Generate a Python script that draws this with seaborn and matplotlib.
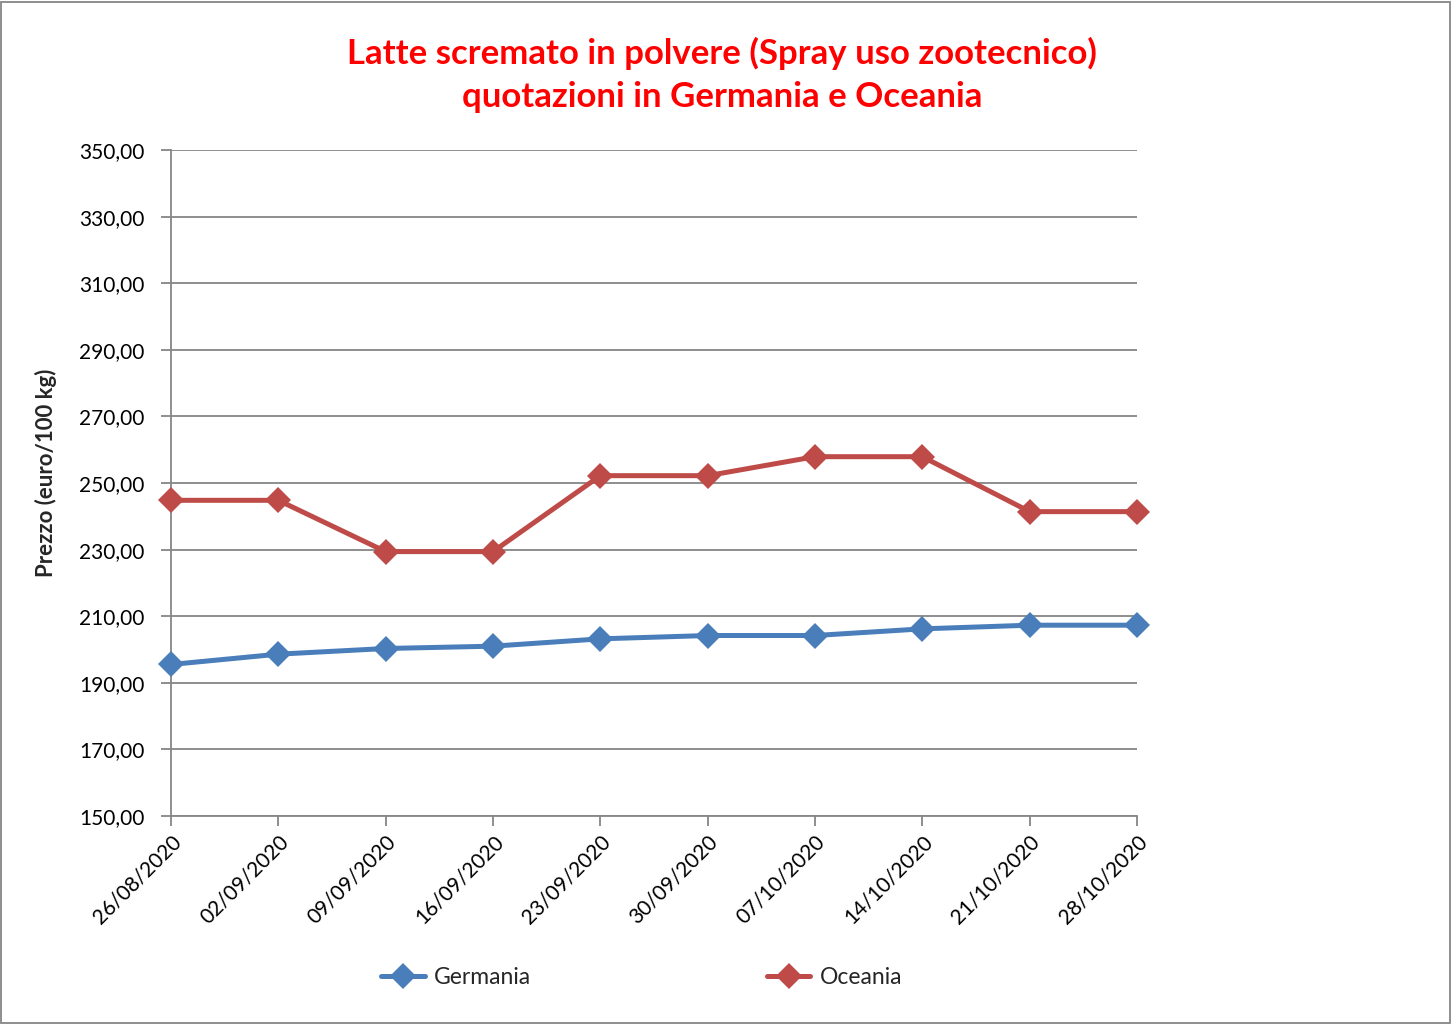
import numpy as np
import pandas as pd
import matplotlib
matplotlib.use("Agg")
import matplotlib.pyplot as plt
from matplotlib.patches import Rectangle
from matplotlib.lines import Line2D
import seaborn as sns

dates = ["26/08/2020", "02/09/2020", "09/09/2020", "16/09/2020", "23/09/2020",
         "30/09/2020", "07/10/2020", "14/10/2020", "21/10/2020", "28/10/2020"]
germania = [195.5, 198.6, 200.3, 201.0, 203.2, 204.2, 204.2, 206.2, 207.3, 207.3]
oceania = [244.8, 244.8, 229.4, 229.4, 252.2, 252.2, 257.9, 257.9, 241.4, 241.4]
series_names = ["Germania", "Oceania"]
colors = ["#4A7EBB", "#BE4B48"]
yticks = [150, 170, 190, 210, 230, 250, 270, 290, 310, 330, 350]

sns.set_theme(style="white")
plt.rcParams["font.family"] = ["Lato", "DejaVu Sans"]

idx = list(range(len(dates)))
df = pd.DataFrame({
    "idx": idx * 2,
    "val": germania + oceania,
    "series": [series_names[0]] * len(dates) + [series_names[1]] * len(dates),
})

fig = plt.figure(figsize=(14.53, 10.24), dpi=100)
ax = fig.add_axes([171 / 1453, 1 - 816 / 1024, (1137 - 171) / 1453, (816 - 150) / 1024])

sns.lineplot(data=df, x="idx", y="val", hue="series", style="series",
             markers=["D", "D"], dashes=False, palette=colors,
             linewidth=3.6, markersize=13, markeredgewidth=0, ax=ax,
             legend=False, clip_on=False, zorder=3)

ax.set_xlim(0, 9)
ax.set_ylim(150, 350)
ax.set_yticks(yticks)
ax.set_yticklabels([f"{v:.2f}".replace(".", ",") for v in yticks], fontsize=15)
ax.set_xticks(idx)
ax.set_xticklabels(dates, rotation=45, ha="right", rotation_mode="anchor", fontsize=15)
ax.set_xlabel("")
ax.set_ylabel("Prezzo (euro/100 kg)", fontsize=16, fontweight="bold")
ax.yaxis.set_label_coords((57 - 171) / 966, (816 - 473) / 666)

ax.grid(axis="y", color="#868686", linewidth=1.3)
ax.grid(axis="x", visible=False)
for s in ["top", "right"]:
    ax.spines[s].set_visible(False)
for s in ["left", "bottom"]:
    ax.spines[s].set_color("#868686")
    ax.spines[s].set_linewidth(1.3)
ax.tick_params(axis="both", which="both", direction="out", length=7, width=1.3,
               color="#868686", labelcolor="black", bottom=True, left=True)
ax.tick_params(axis="y", pad=12)
ax.tick_params(axis="x", pad=4)
ax.set_axisbelow(True)

fig.text(0.497, 1 - 53 / 1024, "Latte scremato in polvere (Spray uso zootecnico)",
         ha="center", va="center", color="#FF0000", fontsize=25, fontweight="bold")
fig.text(0.497, 1 - 97 / 1024, "quotazioni in Germania e Oceania",
         ha="center", va="center", color="#FF0000", fontsize=25, fontweight="bold")

handles = [Line2D([0], [0], color=c, linewidth=3.6, marker="D", markersize=13,
                  markeredgewidth=0) for c in colors]
fig.legend(handles, series_names, loc="center", bbox_to_anchor=(641.5 / 1453, 1 - 978 / 1024),
           ncol=2, frameon=False, fontsize=16.5, handlelength=1.9, columnspacing=10.3,
           handletextpad=0.4)

fig.patches.append(Rectangle((0.001, 0.001), 0.997, 0.997, transform=fig.transFigure,
                             fill=False, edgecolor="#868686", linewidth=1.3))

fig.savefig("out.png", dpi=100)
